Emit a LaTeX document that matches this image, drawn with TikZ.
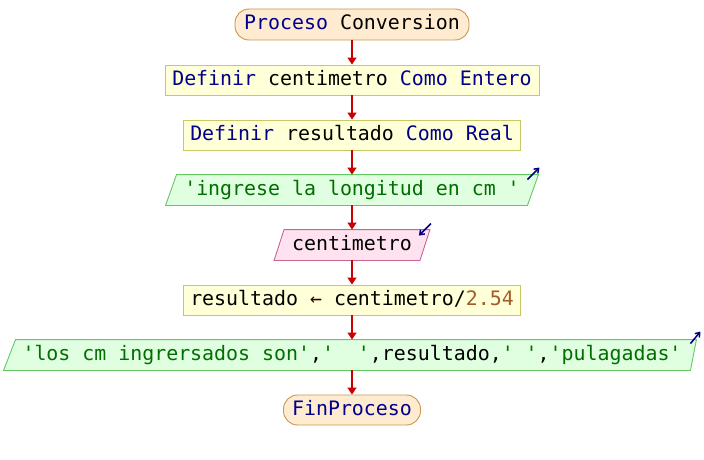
\documentclass[tikz,border=0pt]{standalone}
\usepackage{fontspec}
\setmonofont{DejaVu Sans Mono}
\usetikzlibrary{arrows.meta,calc,backgrounds}

\definecolor{termfill}{RGB}{255,236,208}
\definecolor{termline}{RGB}{200,150,80}
\definecolor{procfill}{RGB}{255,255,216}
\definecolor{procline}{RGB}{200,200,100}
\definecolor{outfill}{RGB}{224,255,224}
\definecolor{outline}{RGB}{100,200,100}
\definecolor{infill}{RGB}{255,226,240}
\definecolor{inline}{RGB}{200,100,150}
\definecolor{kw}{RGB}{0,0,140}
\definecolor{str}{RGB}{0,110,0}
\definecolor{num}{RGB}{165,90,40}
\definecolor{flowred}{RGB}{204,0,0}
\definecolor{iconblue}{RGB}{0,0,128}

\newcommand{\kwd}[1]{\textcolor{kw}{#1}}
\newcommand{\strg}[1]{\textcolor{str}{#1}}
\newcommand{\numb}[1]{\textcolor{num}{#1}}

\tikzset{
  base/.style={font=\fontsize{19.9}{24}\selectfont\ttfamily, inner sep=0pt,
    text height=14pt, text depth=4pt, minimum height=30pt, line width=0.9pt},
  term/.style={base, draw=termline, fill=termfill, rounded corners=14pt},
  proc/.style={base, draw=procline, fill=procfill},
  iobox/.style={base},
  outshape/.style={draw=outline, fill=outfill, line width=0.9pt},
  inshape/.style={draw=inline, fill=infill, line width=0.9pt},
  flow/.style={draw=flowred, line width=1.6pt, -{Triangle[length=7pt,width=9pt]}},
  icon/.style={draw=iconblue, line width=1.5pt, -{Straight Barb[length=4pt,width=6pt]}}
}

\begin{document}
\begin{tikzpicture}[x=1pt,y=-1pt]
\useasboundingbox (0,0) rectangle (704,460);

\node[term, minimum width=234pt, minimum height=31pt] (start) at (352,24.5)
  {\kwd{Proceso} Conversion};
\node[proc, minimum width=374pt] (d1) at (352,80)
  {\kwd{Definir} centimetro \kwd{Como} \kwd{Entero}};
\node[proc, minimum width=337pt] (d2) at (352,135)
  {\kwd{Definir} resultado \kwd{Como} \kwd{Real}};
\node[iobox, minimum width=361pt] (o1) at (352,190)
  {\strg{'ingrese la longitud en cm '}};
\node[iobox, minimum width=145pt] (in1) at (352,245)
  {centimetro};
\node[proc, minimum width=337pt] (calc) at (352,300)
  {resultado \textcolor{black!80!red}{←} centimetro/\numb{2.54}};
\node[iobox, minimum width=682pt] (o2) at (352,355)
  {\strg{'los cm ingrersados son'},\strg{'\ \ '},resultado,\strg{' '},\strg{'pulagadas'}};
\node[term, minimum width=137pt] (end) at (352,410)
  {\kwd{FinProceso}};

% slanted input/output shapes behind their text
\begin{scope}[on background layer]
  \path[outshape] ($(o1.south west)+(-5.5,0)$) -- ($(o1.north west)+(5.5,0)$)
    -- ($(o1.north east)+(5.5,0)$) -- ($(o1.south east)+(-5.5,0)$) -- cycle;
  \path[inshape] ($(in1.south west)+(-5,0)$) -- ($(in1.north west)+(5,0)$)
    -- ($(in1.north east)+(5,0)$) -- ($(in1.south east)+(-5,0)$) -- cycle;
  \path[outshape] ($(o2.south west)+(-7,0)$) -- ($(o2.north west)+(5,0)$)
    -- ($(o2.north east)+(3,0)$) -- ($(o2.south east)+(-3,0)$) -- cycle;
\end{scope}

% output / input markers
\coordinate (o1mark) at ($(o1.north east)+(6.5,-7)$);
\coordinate (in1mark) at ($(in1.north east)+(-6,6)$);
\coordinate (o2mark) at ($(o2.north east)+(7,-8)$);
\draw[icon] ($(o1mark)+(-12,12)$) -- (o1mark);
\draw[icon] ($(in1mark)+(12,-12)$) -- (in1mark);
\draw[icon] ($(o2mark)+(-10,12)$) -- (o2mark);

% control flow
\draw[flow] (start) -- (d1);
\draw[flow] (d1) -- (d2);
\draw[flow] (d2) -- (o1);
\draw[flow] (o1) -- (in1);
\draw[flow] (in1) -- (calc);
\draw[flow] (calc) -- (o2);
\draw[flow] (o2) -- (end);
\end{tikzpicture}
\end{document}
